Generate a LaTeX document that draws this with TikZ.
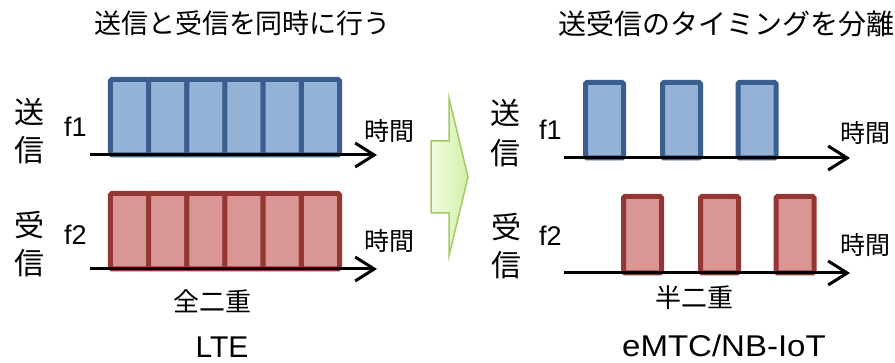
\documentclass[tikz,border=0pt]{standalone}
\usepackage{fontspec}
\setmainfont{Liberation Sans}
\newfontfamily\jp{Noto Sans CJK JP}
\usetikzlibrary{arrows.meta}
\definecolor{bfill}{HTML}{95B3D7}
\definecolor{bdark}{HTML}{3A5F8E}
\definecolor{rfill}{HTML}{D99694}
\definecolor{rdark}{HTML}{943634}
\definecolor{gline}{HTML}{A5C866}
\definecolor{glight}{HTML}{F0FDE2}
\definecolor{gdark}{HTML}{D2F0A8}
\begin{document}
\begin{tikzpicture}[x=1pt,y=-1pt,
  cell/.style={inner sep=0pt, outer sep=0pt, line width=5pt, rounded corners=1.5pt},
  bluecell/.style={cell, draw=bdark, fill=bfill},
  redcell/.style={cell, draw=rdark, fill=rfill},
  axis/.style={line width=3pt, -{Straight Barb[length=19pt,width=24pt]}},
  jptxt/.style={font=\jp\fontsize{#1}{#1}\selectfont, inner sep=0pt},
  latin/.style={font=\fontsize{#1}{#1}\selectfont, inner sep=0pt},
]
\useasboundingbox (0,0) rectangle (895,363);

% titles
\node[jptxt=27] (title1) at (242.5,23.5) {送信と受信を同時に行う};
\node[jptxt=28, anchor=west] (title2) at (558,23.5) {送受信のタイミングを分離};

% ---------- left: full duplex ----------
\foreach \i/\cx in {1/129.58,2/167.75,3/205.92,4/244.08,5/282.25,6/320.42}{
  \node[bluecell, minimum width=38.17pt, minimum height=75.5pt] (lb\i) at (\cx,117.25) {};
  \node[redcell, minimum width=38.17pt, minimum height=75.5pt] (lr\i) at (\cx,231.25) {};
}
\coordinate (la1s) at (90,155);
\coordinate (la1e) at (377,155);
\coordinate (la2s) at (90,269);
\coordinate (la2e) at (377,269);
\draw[axis] (la1s) -- (la1e);
\draw[axis] (la2s) -- (la2e);

\node[jptxt=30] (ls1) at (29.5,111.5) {送};
\node[jptxt=30] (ls2) at (29.5,150) {信};
\node[jptxt=30] (lr1) at (30,225) {受};
\node[jptxt=30] (lr2) at (30,263.5) {信};
\node[latin=27, anchor=base west] (lf1) at (64,137) {f1};
\node[latin=27, anchor=base west] (lf2) at (64,245) {f2};
\node[jptxt=25] (lt1) at (389,131) {時間};
\node[jptxt=25] (lt2) at (389,241) {時間};
\node[jptxt=26] (full) at (212.5,301) {全二重};
\node[latin=30, anchor=base] (lte) at (222,358) {LTE};

% ---------- green arrow ----------
\draw[gline, line width=1.5pt, line join=miter, left color=glight, right color=gdark]
  (431,141) -- (449,141) -- (449,98) -- (468,177) -- (449,256) -- (449,213) -- (431,213) -- cycle;

% ---------- right: half duplex ----------
\foreach \i/\cx in {1/604.5,2/681.5,3/757}{
  \node[bluecell, minimum width=38pt, minimum height=75.5pt] (rb\i) at (\cx,120.25) {};
}
\foreach \i/\cx in {1/642.5,2/719.5,3/795}{
  \node[redcell, minimum width=38pt, minimum height=76.5pt] (rr\i) at (\cx,234.75) {};
}
\coordinate (ra1s) at (564,158);
\coordinate (ra1e) at (850,158);
\coordinate (ra2s) at (564,273);
\coordinate (ra2e) at (850,273);
\draw[axis] (ra1s) -- (ra1e);
\draw[axis] (ra2s) -- (ra2e);

\node[jptxt=30] (rs1) at (505.5,112.5) {送};
\node[jptxt=30] (rs2) at (505.5,153.5) {信};
\node[jptxt=30] (rrc1) at (506,226.5) {受};
\node[jptxt=30] (rrc2) at (506,265) {信};
\node[latin=27, anchor=base west] (rf1) at (539,140) {f1};
\node[latin=27, anchor=base west] (rf2) at (539,246) {f2};
\node[jptxt=25] (rt1) at (865,133) {時間};
\node[jptxt=25] (rt2) at (865,245) {時間};
\node[jptxt=26] (half) at (694,298) {半二重};
\node[latin=30, anchor=base, xscale=1.1] (emtc) at (724,357) {eMTC/NB-IoT};
\end{tikzpicture}
\end{document}
